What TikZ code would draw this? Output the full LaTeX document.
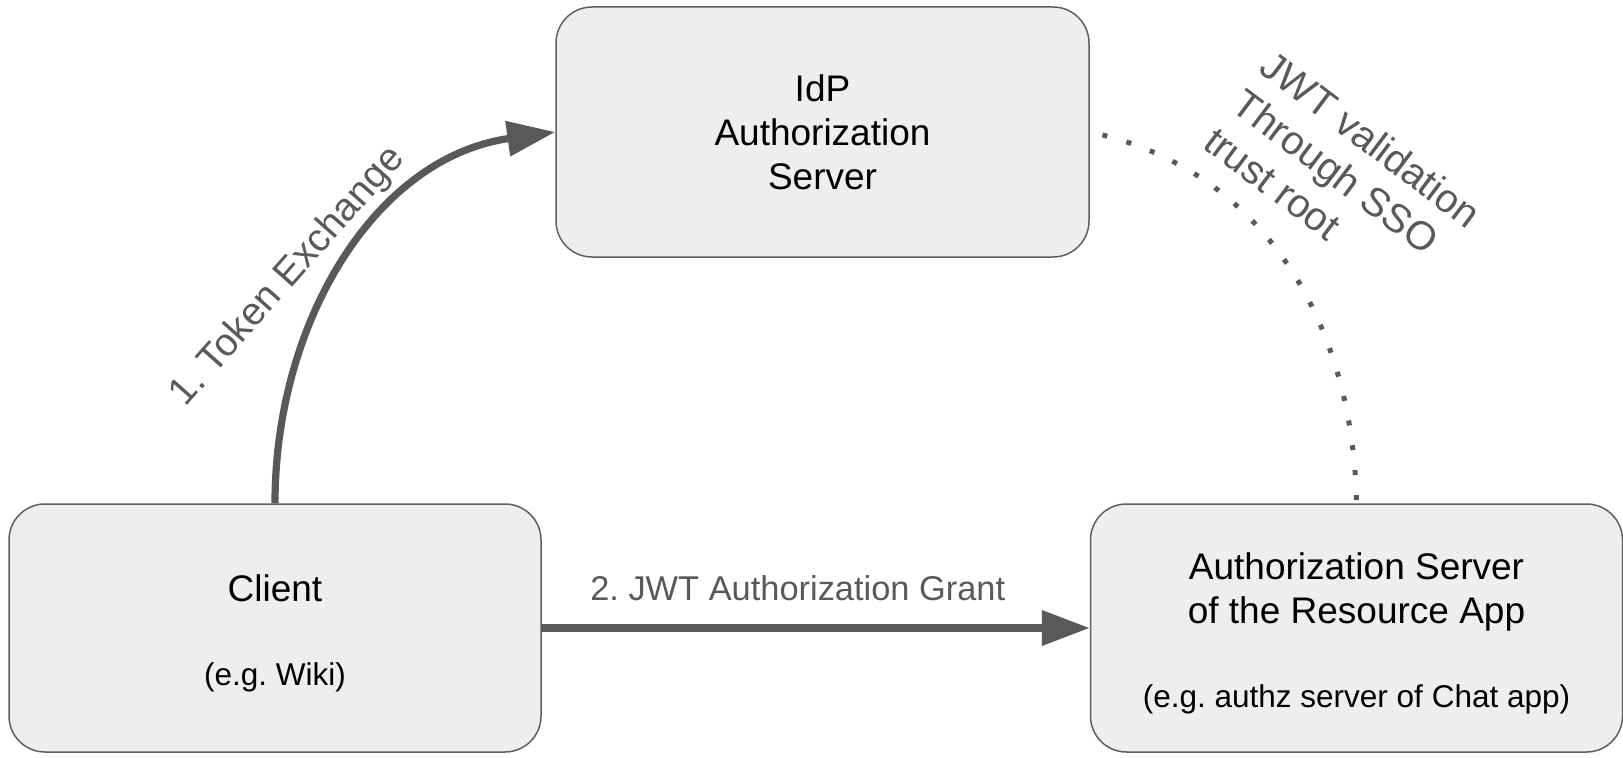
\documentclass[tikz,border=0pt]{standalone}
\usepackage{fontspec}
\setmainfont{Liberation Sans}
\usetikzlibrary{arrows.meta, positioning}
\definecolor{boxgray}{RGB}{238,238,238}
\definecolor{edgegray}{RGB}{95,95,95}
\definecolor{arrowgray}{RGB}{89,89,89}
\newcommand{\topgap}{\rule{0pt}{18.5pt}}
\frenchspacing

\begin{document}
\begin{tikzpicture}[
        node distance=274pt,
        box/.style={rectangle, draw=edgegray, line width=0.75pt, fill=boxgray, rounded corners=18pt, minimum width=266pt, minimum height=124pt, align=center, font=\fontsize{18.5}{22}\selectfont},
        flow/.style={-{Triangle[length=24pt, width=17pt]}, line width=3.6pt, arrowgray},
        lbl/.style={text=arrowgray, font=\fontsize{17.2}{20}\selectfont}
    ]
        \useasboundingbox (0,0) rectangle (811.5pt,378.5pt);
        \node[box] (client) at (137.5pt,64.5pt) {\topgap Client\\[20pt]{\fontsize{15.75}{18}\selectfont (e.g. Wiki)}};
        \node[box, right=of client] (resource) {\topgap Authorization Server\\of the Resource App\\[20pt]{\fontsize{15.75}{18}\selectfont (e.g. authz server of Chat app)}};
        \node[box, minimum width=266.5pt, minimum height=125pt] (idp) at (411.25pt,312.5pt) {IdP\\Authorization\\Server};
        
        \draw[flow] (client.north) to[out=90, in=188] (idp.west);
        \draw[flow] (client) -- node[lbl, yshift=20pt, xshift=-9pt] (grantlbl) {2. JWT Authorization Grant} (resource);
        \draw[arrowgray, line width=2.5pt, dash pattern=on 2.5pt off 10pt, dash phase=6pt] (idp.east) to[out=-12, in=91] (resource.north);
        
        \node[lbl, rotate=48.5, font=\fontsize{19.5}{22}\selectfont] (tokenlbl) at (144pt,240pt) {1. Token Exchange};
        \node[lbl, rotate=-37, align=left, font=\fontsize{20}{23.5}\selectfont] (trustlbl) at (671.5pt,290pt) {JWT validation\\Through SSO\\trust root};
    \end{tikzpicture}
\end{document}
